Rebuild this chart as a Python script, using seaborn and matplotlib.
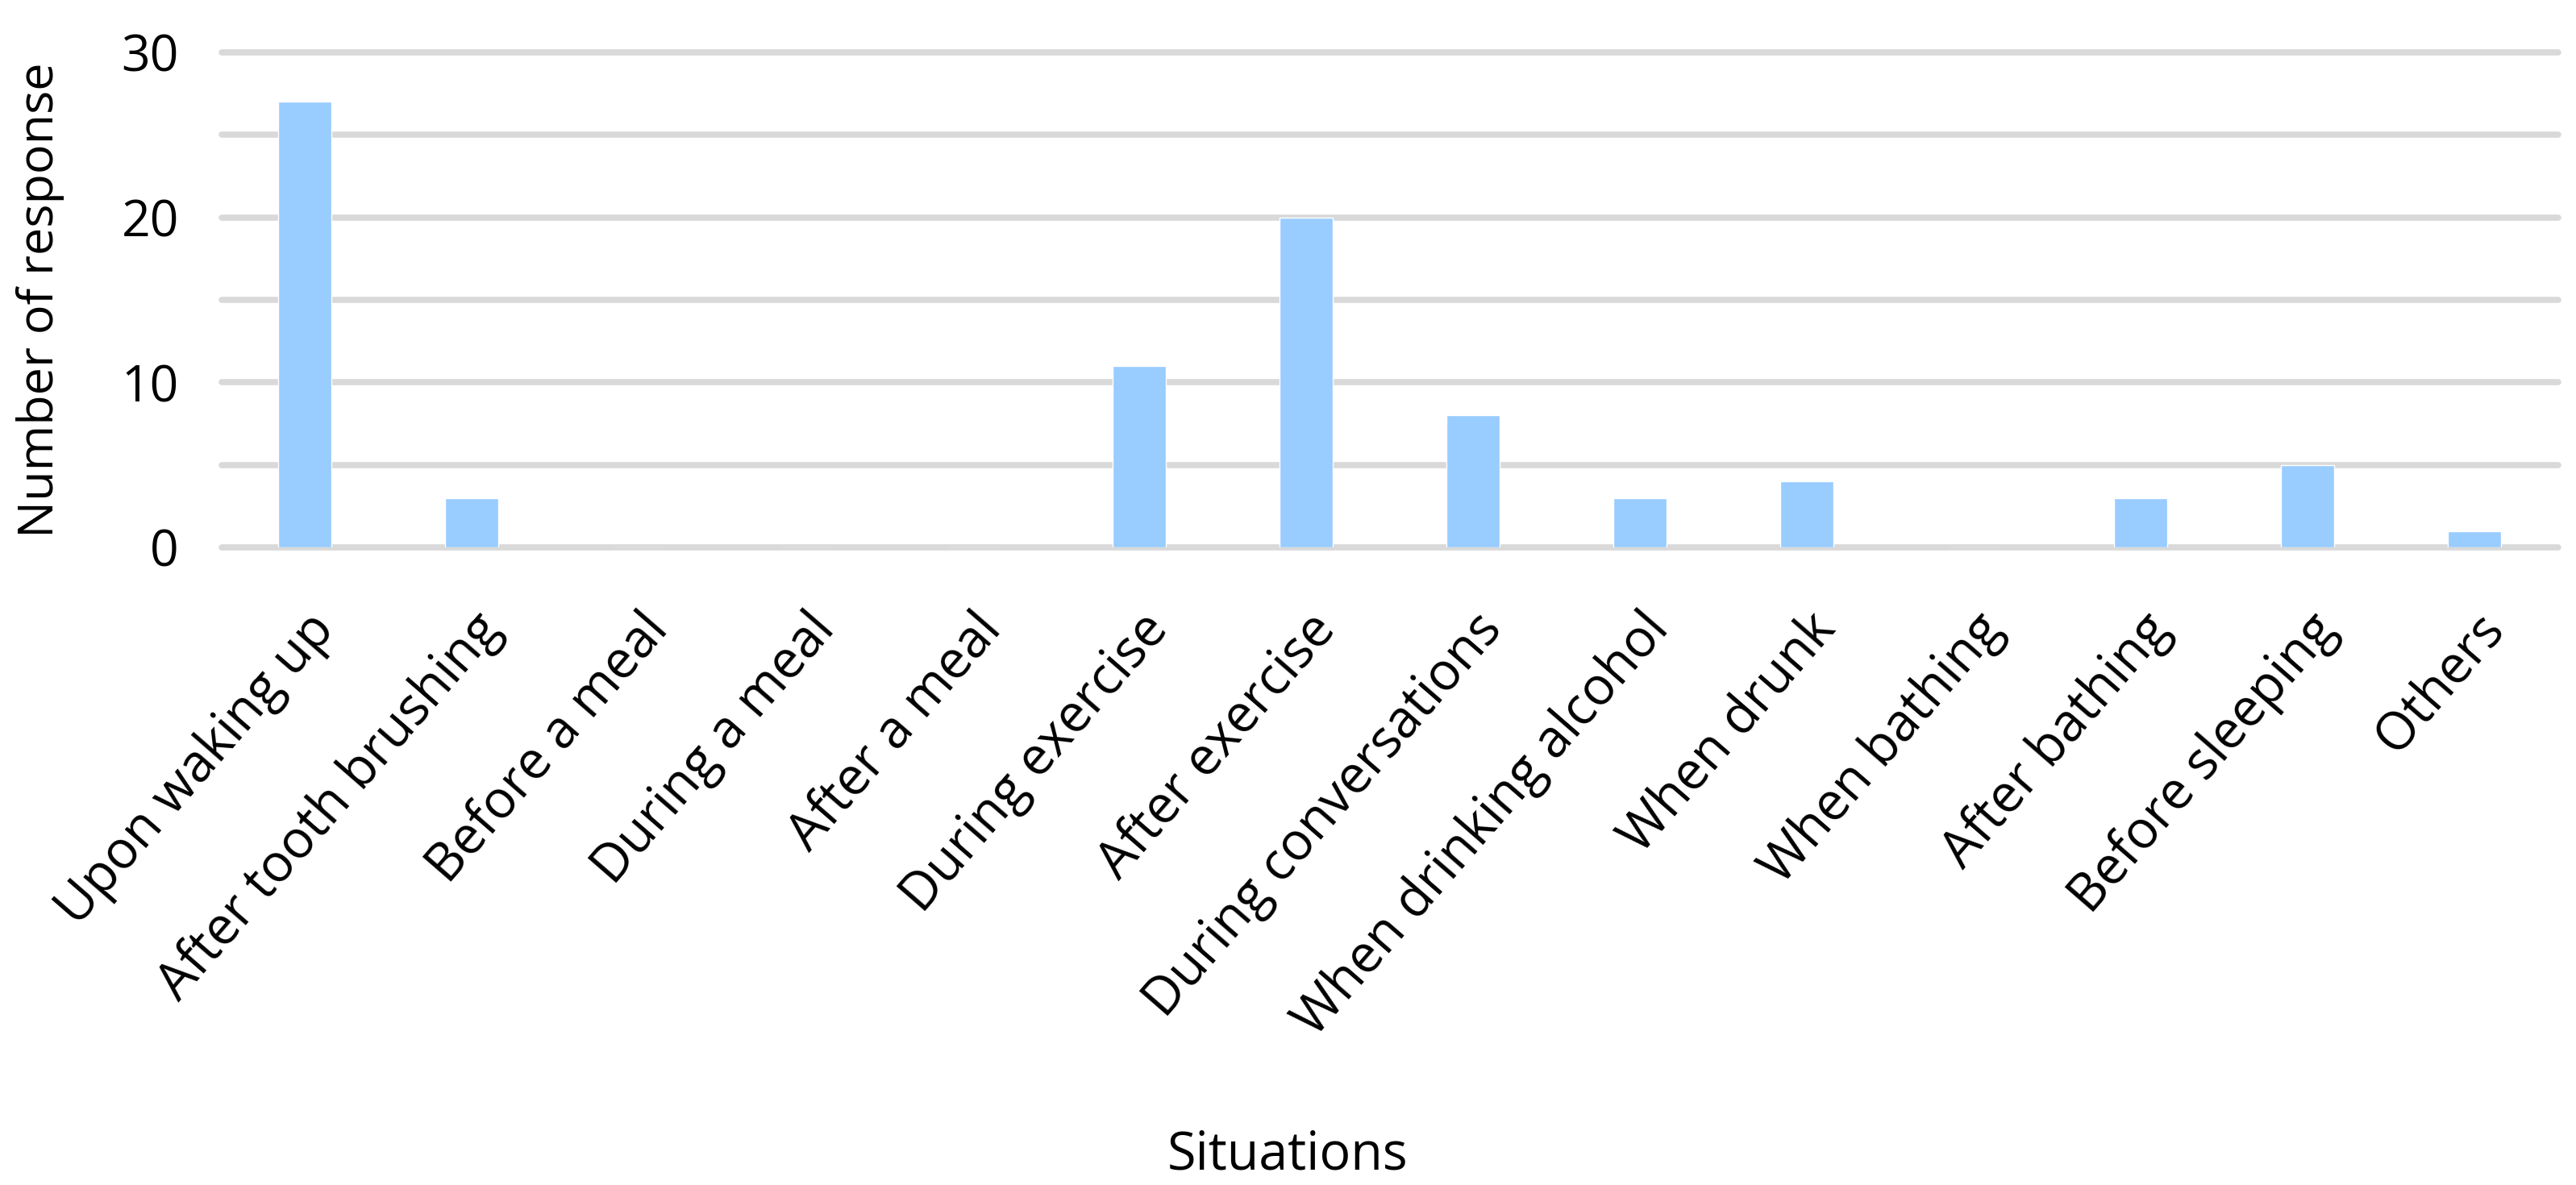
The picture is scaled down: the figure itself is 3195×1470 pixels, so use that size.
import matplotlib
matplotlib.use("Agg")
import matplotlib.pyplot as plt
from matplotlib.ticker import MultipleLocator
import seaborn as sns
import pandas as pd

situations = ["Upon waking up", "After tooth brushing", "Before a meal", "During a meal",
              "After a meal", "During exercise", "After exercise", "During conversations",
              "When drinking alcohol", "When drunk", "When bathing", "After bathing",
              "Before sleeping", "Others"]
responses = [27, 3, 0, 0, 0, 11, 20, 8, 3, 4, 0, 3, 5, 1]

BAR_COLOR = "#99CCFF"
GRID_COLOR = "#D9D9D9"
FS = 46.5

sns.set_style("white")
plt.rcParams['font.family'] = ['Open Sans', 'DejaVu Sans']
for key in ['text.color', 'axes.labelcolor', 'xtick.color', 'ytick.color']:
    plt.rcParams[key] = 'black'

df = pd.DataFrame({"situation": situations, "count": responses})

fig, ax = plt.subplots(figsize=(31.95, 14.70), dpi=100)
fig.subplots_adjust(left=0.086, right=0.993, top=0.956, bottom=0.538)

sns.barplot(data=df, x="situation", y="count", color=BAR_COLOR, width=0.32,
            saturation=1, ax=ax, zorder=3)

ax.set_ylim(0, 30)
ax.yaxis.set_major_locator(MultipleLocator(10))
ax.yaxis.set_minor_locator(MultipleLocator(5))
ax.grid(axis="y", which="both", color=GRID_COLOR, linewidth=5.5, zorder=0)
ax.set_axisbelow(True)
# keep the 0 and 30 grid lines at full width
for tick in ax.yaxis.get_major_ticks() + ax.yaxis.get_minor_ticks():
    tick.gridline.set_clip_on(False)
# baseline sits over the bar feet, as in the original
ax.yaxis.get_major_ticks()[0].gridline.set_zorder(5)

sns.despine(ax=ax, left=True, bottom=True)
ax.tick_params(axis="y", which="both", length=0, labelsize=45, pad=38)
ax.tick_params(axis="x", length=0, labelsize=FS, pad=50)
plt.setp(ax.get_xticklabels(), rotation=49, ha="right", rotation_mode="anchor")

ax.set_xlabel("Situations", fontsize=FS, va="center")
ax.xaxis.set_label_coords(0.5, 0.0245, transform=fig.transFigure)
ax.set_ylabel("Number of response", fontsize=44, va="center")
ax.yaxis.set_label_coords(0.0155, 0.5)
ax.yaxis.label.set_transform(
    matplotlib.transforms.blended_transform_factory(fig.transFigure, ax.transAxes))

fig.savefig("out.png", dpi=100)
